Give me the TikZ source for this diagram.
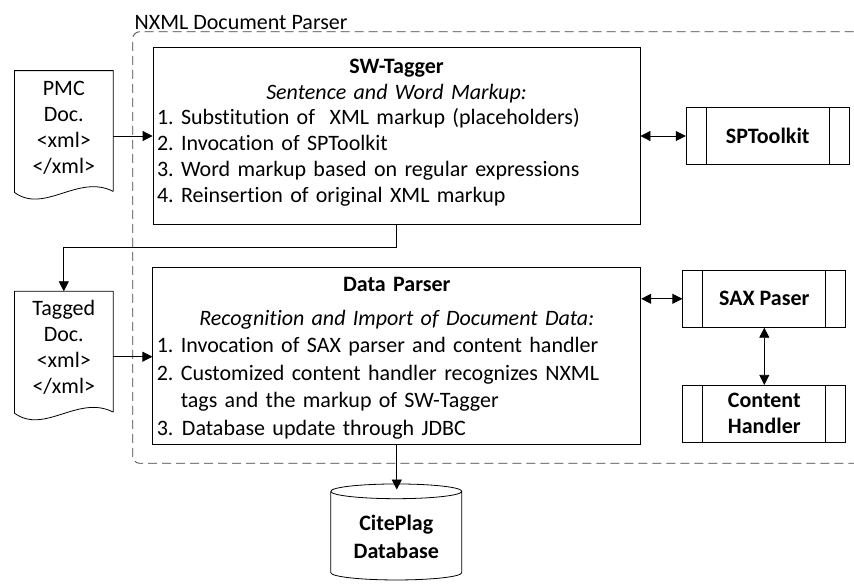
\documentclass[tikz,border=0pt]{standalone}
\usepackage{fontspec}
\setmainfont{Carlito}[Ligatures=NoCommon]
\frenchspacing
\usetikzlibrary{arrows.meta,shapes.geometric}

\tikzset{
	mainbox/.style={draw, inner xsep=4pt, inner ysep=0pt, text width=#1, align=left},
	procbox/.style={draw, minimum width=163pt, minimum height=57pt, align=center, font=\fontsize{22}{26}\selectfont\bfseries,
		path picture={
			\draw ([xshift=20pt]path picture bounding box.north west) -- ([xshift=20pt]path picture bounding box.south west);
			\draw ([xshift=-20pt]path picture bounding box.north east) -- ([xshift=-20pt]path picture bounding box.south east);
		}},
	docnode/.style={inner sep=0pt, text width=98pt, align=center, text height=24pt, text depth=106pt},
	arr/.style={-{Triangle[length=10pt,width=10pt]}},
	darr/.style={{Triangle[length=10pt,width=10pt]}-{Triangle[length=10pt,width=10pt]}},
}
\newcommand{\docshape}[1]{
	\draw ([yshift=10pt]#1.south east) -- (#1.north east) -- (#1.north west) -- ([yshift=9pt]#1.south west)
		.. controls +(30,22) and +(-35,-18) .. ([yshift=10pt]#1.south east);
}

\begin{document}
\begin{tikzpicture}[x=1pt, y=-1pt, font=\fontsize{22}{26}\selectfont, line width=0.8pt]
	\useasboundingbox (0,0) rectangle (854,584);
	\node[draw=black!75, dash pattern=on 9pt off 5pt, rounded corners=7pt, minimum width=770pt, minimum height=431.6pt] (nxml) at (517.7,247.5) {};
	\node[anchor=base west, inner sep=0pt] (nxmltitle) at ([xshift=2pt,yshift=2pt]nxml.north west) {NXML Document Parser};

	\node[mainbox=479pt, text height=26pt, text depth=151pt] (swt) at (396.5,135.8) {%
		\makebox[\hsize]{\textbf{SW-Tagger}}\\[0.5pt]
		\makebox[\hsize]{\textit{Sentence and Word Markup:}}\\[-1.5pt]
		1. Substitution of \ XML markup (placeholders)\\
		2. Invocation of SPToolkit\\
		3. Word markup based on regular expressions\\
		4. Reinsertion of original XML markup};
	\node[mainbox=480pt, text height=24.3pt, text depth=153.4pt, font=\fontsize{22}{27.5}\selectfont] (dp) at (396.8,355.85) {%
		\makebox[\hsize]{\textbf{Data Parser}}\\[6.5pt]
		\makebox[\hsize]{\textit{Recognition and Import of Document Data:}}\\
		1. Invocation of SAX parser and content handler\\
		2. Customized content handler recognizes NXML\\
		\hspace*{24pt}tags and the markup of SW-Tagger\\
		3.\hspace{8.5pt}Database update through JDBC};

	\node[procbox] (spt) at (767.7,136) {SPToolkit};
	\node[procbox] (sax) at (764.3,298.8) {SAX Paser};
	\node[procbox] (ch) at (764.3,413.8) {Content\\Handler};

	\node[docnode] (pmc) at (63.8,136) {PMC\\Doc.\\<xml>\\</xml>};
	\node[docnode] (tag) at (63.8,356.7) {Tagged\\Doc.\\<xml>\\</xml>};
	\foreach \d in {pmc,tag}{\docshape{\d}}

	\node[cylinder, shape border rotate=90, draw, aspect=0.16, minimum width=131pt, minimum height=96pt, align=center, font=\fontsize{22}{27.6}\selectfont\bfseries] (db) at (396.3,537) {CitePlag\\Database};

	\draw[arr] (pmc.east) -- (pmc.east -| swt.west);
	\draw[arr] (tag.east) -- (tag.east -| dp.west);
	\draw[arr] (swt.south) -- ++(0,23) -| (tag.north);
	\draw[arr, shorten >=-6pt] (dp.south) -- (dp.south |- db.north);
	\draw[darr] (swt.east |- spt.west) -- (spt.west);
	\draw[darr] (dp.east |- sax.west) -- (sax.west);
	\draw[darr] (sax.south) -- (ch.north);
\end{tikzpicture}
\end{document}
